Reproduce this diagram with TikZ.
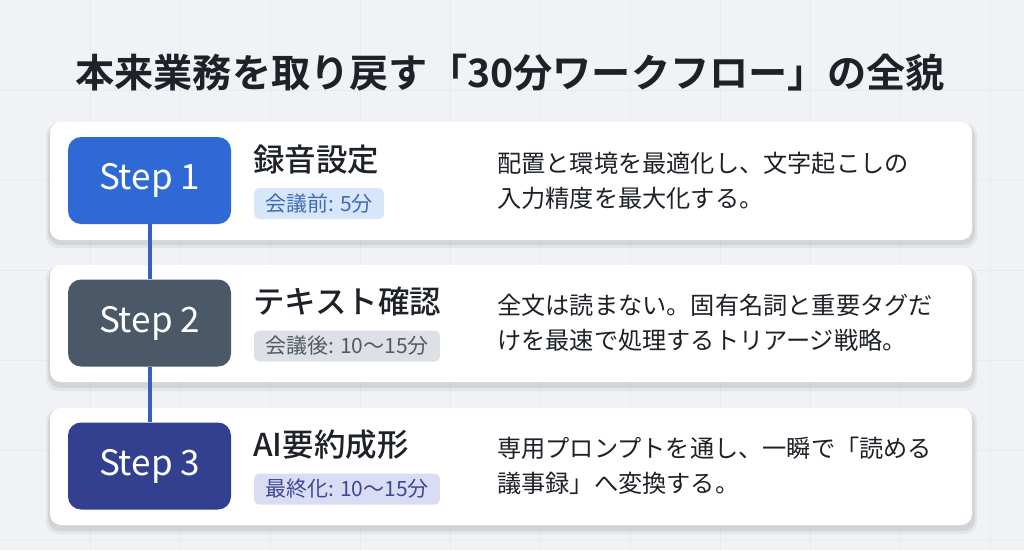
\documentclass[tikz,border=0pt]{standalone}
\usepackage{fontspec}
\setmainfont{Noto Sans CJK JP}
\newfontfamily\cjk{Noto Sans CJK JP}
\newfontfamily\cjkb{Noto Sans CJK JP Bold}
\newfontfamily\cjkm{Noto Sans CJK JP Medium}
\definecolor{bgc}{HTML}{F1F2F5}
\definecolor{gridc}{HTML}{E8EAEE}
\definecolor{sone}{HTML}{2F69D6}
\definecolor{stwo}{HTML}{4A5868}
\definecolor{sthree}{HTML}{33408F}
\definecolor{linec}{HTML}{3A5FC0}
\definecolor{tagone}{HTML}{D7E6FA}
\definecolor{tagonet}{HTML}{3F6CB3}
\definecolor{tagtwo}{HTML}{DDE0E4}
\definecolor{tagtwot}{HTML}{545B65}
\definecolor{tagthree}{HTML}{DADCF3}
\definecolor{tagthreet}{HTML}{3D4896}
\definecolor{txt}{HTML}{1E2228}
\tikzset{
  card/.style={fill=white, rounded corners=11pt},
  shadowbox/.style={fill=black, fill opacity=0.07, rounded corners=12pt},
  stepbox/.style={rounded corners=13pt, minimum width=163pt, minimum height=87pt, inner sep=0pt, text=white, font=\cjk\fontsize{35}{40}\selectfont},
  headtxt/.style={anchor=west, inner sep=0pt, text=txt, font=\cjkm\fontsize{31.5}{36}\selectfont},
  tagbox/.style={anchor=west, rounded corners=5pt, inner xsep=11pt, minimum height=31pt, font=\cjk\fontsize{21}{24}\selectfont},
  desc/.style={anchor=west, inner sep=0pt, align=left, text=txt, font=\cjk\fontsize{24.2}{35}\selectfont},
  conn/.style={draw=linec, line width=4pt}
}
\begin{document}
\begin{tikzpicture}[x=1pt,y=-1pt]
\useasboundingbox (0,0) rectangle (1024,550);
\fill[bgc] (0,0) rectangle (1024,550);
\foreach \gx in {90,180,...,1000} \draw[gridc, line width=0.6pt] (\gx,0) -- (\gx,550);
\foreach \gy in {90,180,...,540} \draw[gridc, line width=0.6pt] (0,\gy) -- (1024,\gy);
% title
\node[font=\cjkb\fontsize{39.2}{44}\selectfont, text=txt] (title) at (510,73) {本来業務を取り戻す「30分ワークフロー」の全貌};
% shadows and cards
\foreach \ty in {122,265,408} {
  \fill[shadowbox] (48,\ty+3) rectangle (975,\ty+123);
  \fill[shadowbox, fill opacity=0.05] (46,\ty+1) rectangle (977,\ty+126);
}
\fill[card] (50,122) rectangle (972,240);
\fill[card] (50,265) rectangle (972,382);
\fill[card] (50,408) rectangle (972,525);
% step boxes
\node[stepbox, fill=sone] (s1) at (149.5,180.5) {Step 1};
\node[stepbox, fill=stwo] (s2) at (149.5,323) {Step 2};
\node[stepbox, fill=sthree] (s3) at (149.5,466) {Step 3};
\draw[conn] (s1.south) -- (s2.north);
\draw[conn] (s2.south) -- (s3.north);
% headings
\node[headtxt] (h1) at (253,160) {録音設定};
\node[headtxt] (h2) at (253,302) {テキスト確認};
\node[headtxt] (h3) at (253,445) {AI要約成形};
% tags
\node[tagbox, fill=tagone, text=tagonet] (t1) at (254,203.5) {会議前: 5分};
\node[tagbox, fill=tagtwo, text=tagtwot] (t2) at (254,346) {会議後: 10〜15分};
\node[tagbox, fill=tagthree, text=tagthreet] (t3) at (254,489) {最終化: 10〜15分};
% descriptions
\node[desc] (d1) at (497,180.5) {配置と環境を最適化し、文字起こしの\\入力精度を最大化する。};
\node[desc] (d2) at (497,323) {全文は読まない。固有名詞と重要タグだ\\けを最速で処理するトリアージ戦略。};
\node[desc] (d3) at (497,466) {専用プロンプトを通し、一瞬で「読める\\議事録」へ変換する。};
\end{tikzpicture}
\end{document}
